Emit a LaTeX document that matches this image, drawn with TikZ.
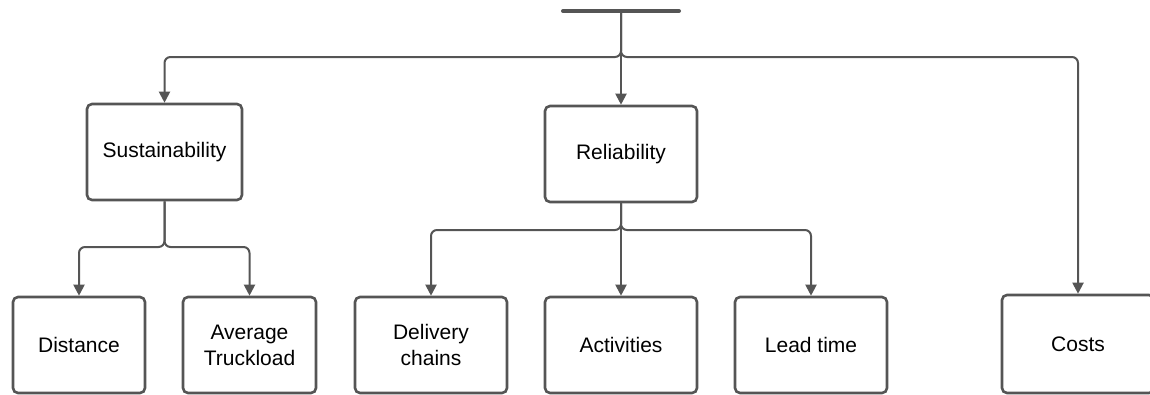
\documentclass[tikz,border=0pt]{standalone}
\usepackage{fontspec}
\setmainfont{Liberation Sans}
\usetikzlibrary{arrows.meta}
\definecolor{ink}{HTML}{555555}
\tikzset{
  box/.style={draw=ink, line width=2.6pt, rounded corners=5pt, fill=white,
    minimum width=152pt, minimum height=96pt, align=center,
    font=\fontsize{21}{26}\selectfont, inner sep=0pt},
  conn/.style={draw=ink, line width=2pt, rounded corners=6pt,
    -{Triangle[length=11pt,width=11pt]}},
  plain/.style={draw=ink, line width=2pt, rounded corners=6pt}
}
\begin{document}
\begin{tikzpicture}[x=1pt,y=-1pt]
\useasboundingbox (0,0) rectangle (1150,394);
\clip (0,0) rectangle (1150,394);

% top bar
\coordinate (barL) at (563,11);
\coordinate (barR) at (679,11);
\coordinate (bar) at (621,11);
\draw[ink, line width=4pt, line cap=round] (barL) -- (barR);

% boxes
\node[box, minimum width=155pt] (sus) at (164.5,152) {Sustainability};
\node[box] (rel) at (621,154) {Reliability};
\node[box, minimum width=132pt] (dist) at (79,345) {Distance};
\node[box, minimum width=133pt] (avg) at (249.5,345) {Average\\Truckload};
\node[box] (del) at (431,345) {Delivery\\chains};
\node[box] (act) at (621,345) {Activities};
\node[box] (lead) at (811,345) {Lead time};
\node[box, minimum height=98pt] (costs) at (1078,344) {Costs};

% junctions
\coordinate (j0) at (621,57);
\coordinate (j1) at (164.5,247);
\coordinate (j2) at (621,230);

% connectors from the top bar
\draw[conn] (bar) -- (j0) -| (sus.north);
\draw[conn] (bar) -- (j0) -| (costs.north);
\draw[conn] (bar) -- (rel.north);

% sustainability branch
\draw[conn] (sus.south) -- (j1) -| (dist.north);
\draw[conn] (sus.south) -- (j1) -| (avg.north);

% reliability branch
\draw[conn] (rel.south) -- (j2) -| (del.north);
\draw[conn] (rel.south) -- (act.north);
\draw[conn] (rel.south) -- (j2) -| (lead.north);
\end{tikzpicture}
\end{document}
